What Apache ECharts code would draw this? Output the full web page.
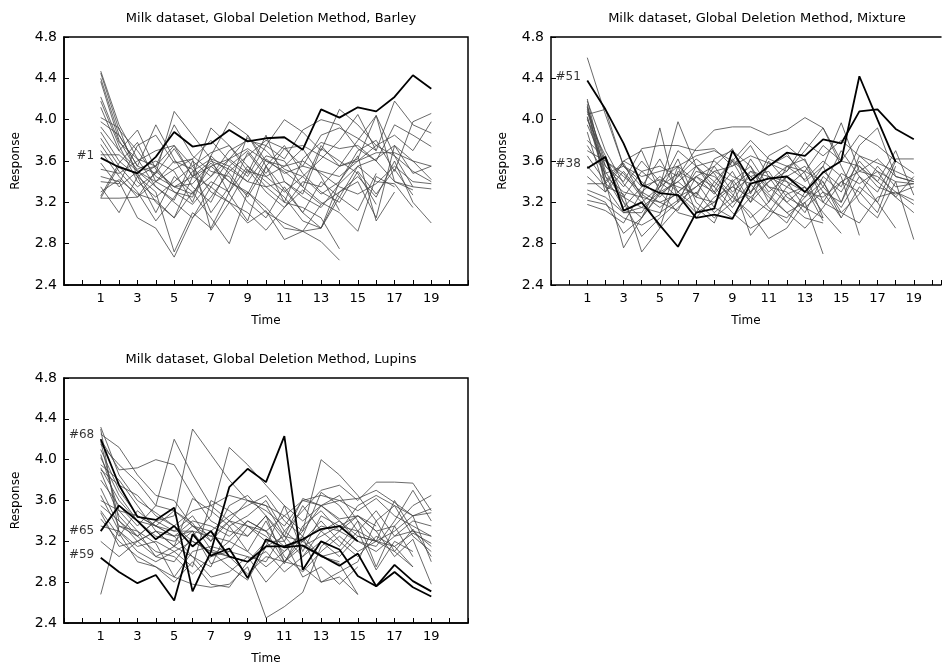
<!DOCTYPE html>
<html>
<head>
<meta charset="utf-8">
<script src="https://cdn.jsdelivr.net/npm/echarts@6/dist/echarts.min.js"></script>
<style>
html,body{margin:0;padding:0;background:#fff;}
#chart{width:944px;height:666px;}
</style>
</head>
<body>
<div id="chart"></div>
<script>
var timePoints = [1,2,3,4,5,6,7,8,9,10,11,12,13,14,15,16,17,18,19];
var xTickLabels = [1,3,5,7,9,11,13,15,17,19];
var yTicks = [2.4,2.8,3.2,3.6,4.0,4.4,4.8];

// Barley: highlighted cow #1
var barley1 = [3.63,3.54,3.48,3.64,3.88,3.74,3.77,3.90,3.79,3.82,3.83,3.71,4.10,4.02,4.12,4.08,4.22,4.43,4.30];
var barleyOther = [
	[4.47,3.95,3.62,3.55,3.75,3.45,3.60,3.52,3.40,3.35,3.20,3.15,3.05,2.75],
	[4.45,3.90,3.70,3.45,3.35,3.28,3.55,3.40,3.30,3.15,2.95,2.92,2.82,2.64],
	[4.40,3.85,3.55,3.48,4.08,3.85,3.62,3.55,3.70,3.48,3.72,3.55,3.50,3.45,3.60,3.75,3.65,3.50,3.40],
	[4.37,3.80,3.50,3.40,3.30,3.25,3.65,3.98,3.85,3.60,3.55,3.72,3.45,3.12],
	[4.22,3.78,3.62,3.35,3.22,3.60,3.45,3.70,3.80,3.75,3.62,3.90,4.00,3.95,3.72,3.60,3.95,3.85,3.74],
	[4.18,3.75,3.40,3.25,3.40,3.55,3.30,3.20,3.52,3.30,3.15,3.40,3.35,3.55,3.80,4.04,3.40,3.35,3.33],
	[4.12,3.70,3.52,3.60,3.50,3.20,3.65,3.48,3.25,3.55,3.75,3.48,3.30,3.20,3.50,3.28,3.52,3.27],
	[4.02,3.92,3.45,3.30,2.72,3.10,2.95,3.30,3.55,3.35,3.40,3.28,3.72,3.60,3.48,3.18],
	[3.98,3.85,3.55,3.95,3.62,3.35,3.20,3.55,3.40,3.65,3.60,3.35,3.20,3.10,2.92,3.45,3.35],
	[3.93,3.70,3.90,3.52,3.35,3.45,3.92,3.75,3.50,3.45,3.30,3.45,3.62,3.80,4.05,3.70,4.18,3.95,3.87],
	[3.88,3.60,3.45,3.10,3.45,3.30,3.05,2.80,3.30,3.10,3.00,2.92,2.95,3.30,3.40,3.05,3.75,3.60,3.42],
	[3.82,3.55,3.35,3.48,3.72,3.45,3.35,3.62,3.48,3.85,3.40,3.25,3.15,3.38,3.55,3.62,3.75,3.48,3.55],
	[3.76,3.50,3.30,3.02,3.25,3.50,3.62,3.28,3.02,3.55,3.20,3.62,3.78,3.72,3.75,3.60,3.40,3.32],
	[3.70,3.45,3.25,3.40,3.60,3.52,3.10,3.35,3.85,3.55,3.32,3.10,3.40,3.25,3.12,3.48],
	[3.66,3.66,3.50,3.35,3.20,3.05,3.25,3.50,3.65,3.80,3.72,3.75,3.65,3.55,3.60,3.68,3.68,3.60,3.55],
	[3.58,3.35,3.50,3.55,3.95,3.65,3.50,3.45,3.20,3.05,3.35,3.10,2.95,3.25,3.55,3.40,3.38,3.15],
	[3.52,3.48,3.60,3.70,3.75,3.55,3.68,3.75,3.55,3.40,3.25,3.02,2.95,3.40,3.70,3.80,3.50,3.98,4.06],
	[3.45,3.40,3.05,2.95,2.67,3.05,3.35,3.20,3.00,3.12,2.84,2.92,3.18],
	[3.40,3.38,3.75,3.85,3.58,3.62,3.80,3.60,3.45,3.75,4.00,3.88,3.70,4.10,3.95,3.75,3.85,3.70,3.98],
	[3.35,3.10,3.45,3.55,3.30,3.18,3.40,3.30,3.68,3.45,3.55,3.60,3.48,3.35,3.28,3.38,3.55,3.40,3.38],
	[3.30,3.42,3.28,3.22,3.05,3.45,3.55,3.62,3.72,3.60,3.50,3.35,3.75,3.55,3.62,4.04,3.65,3.35],
	[3.26,3.58,3.78,3.40,3.52,3.62,2.93,3.20,3.10,2.93,3.15,3.32,3.18,3.30,3.45,3.25,3.60,3.20,3.00],
	[3.24,3.24,3.25,3.50,3.35,3.38,3.58,3.40,3.28,3.62,3.48,3.55,3.85,3.92,3.82,3.70],
	[3.24,3.55,3.48,3.20,3.05,3.30,3.45,3.62,3.82,3.70,3.52,3.45,3.28,3.40,3.65,3.02,3.30]
];

// Mixture: highlighted cows #51 and #38
var mixture51 = [4.38,4.10,3.77,3.37,3.29,3.27,3.05,3.08,3.04,3.38,3.43,3.45,3.30,3.49,3.60,4.42,4.00,3.59];
var mixture38 = [3.53,3.64,3.12,3.20,2.98,2.77,3.10,3.14,3.70,3.41,3.55,3.68,3.65,3.81,3.77,4.08,4.10,3.91,3.81];
var mixtureOther = [
	[4.60,4.05,3.55,3.40,3.25,3.45,3.72,3.90,3.93,3.93,3.85,3.90,4.02,3.92,3.60,3.85,3.75,3.60,3.48],
	[4.20,3.45,3.30,3.25,3.92,3.20,3.35,3.50,3.40,3.55,3.30,3.45,3.55,3.30,3.20,3.55,3.40,3.25,3.10],
	[4.15,3.38,3.25,3.50,3.35,3.98,3.55,3.40,3.25,3.62,3.35,3.20,3.05,3.00],
	[4.12,3.35,3.10,3.10,3.35,3.48,3.25,3.20,3.42,3.20,3.60,3.40,3.30,3.55,3.97,3.50,3.45,3.30,3.22],
	[4.10,3.60,3.45,3.30,3.20,3.12,3.45,3.55,3.30,3.45,3.50,3.25,3.15,3.05],
	[4.08,3.50,3.20,3.05,3.28,3.40,3.25,3.62,3.70,3.55,3.20,3.45,3.35,3.20,3.10,3.28,3.55,3.35,3.38],
	[4.05,4.10,3.55,3.45,3.50,3.55,3.40,3.30,3.60,3.45,3.28,3.10,3.20,2.70],
	[4.02,3.40,3.60,3.70,3.30,3.62,3.20,3.05,3.20,3.30,3.45,3.35,3.50,3.40,3.05],
	[4.00,3.65,3.25,3.15,3.10,3.22,3.50,3.45,3.28,3.05,3.20,3.55,3.42,3.60,3.45,2.88],
	[3.95,3.55,3.40,3.72,3.75,3.75,3.70,3.72,3.55,3.65,3.58,3.50,3.78,3.65,3.80,3.65,3.58,3.50,3.42],
	[3.88,3.30,3.50,3.28,3.15,3.30,3.15,3.00,3.40,2.88,3.10,3.35,3.25,3.50,3.35,3.75,3.92,3.45,3.40],
	[3.80,3.62,3.20,2.87,3.05,3.20,3.55,3.35,3.15,3.40,3.55,3.65,3.48,3.05],
	[3.75,3.48,3.55,3.35,3.42,3.35,3.28,3.55,3.72,3.28,3.65,3.75,3.60,3.35,3.70,3.45,3.30,3.62,3.62],
	[3.65,3.40,2.76,3.05,3.30,3.10,3.05,3.25,3.35,3.50,3.45,3.20,3.35,3.10,2.90],
	[3.55,3.35,3.28,2.72,2.95,3.15,3.30,3.10,3.25,3.10,2.85,2.95,3.20,3.35,3.15,3.45,3.20,2.95],
	[3.45,3.30,3.60,3.50,3.55,3.45,3.62,3.48,3.20,3.50,3.35,3.30,3.10,3.45,3.30,3.60,3.40,3.70,3.27],
	[3.38,3.38,3.58,3.25,2.95,3.50,3.40,3.15,3.05,3.25,3.40,3.50,3.70,3.92,3.55,3.20,3.05,3.40,2.84],
	[3.32,3.25,3.10,3.15,3.30,3.40,3.55,3.60,3.45,3.38,3.15,3.00,3.30,3.25,3.40,3.50,3.62,3.45,3.40],
	[3.28,3.20,2.90,3.05,3.40,3.25,3.35,3.50,3.55,3.75,3.45,3.40,3.15,3.30,3.05,3.35,3.20,3.60],
	[3.22,3.18,3.05,2.98,3.08,3.55,3.10,3.40,3.60,3.30,3.55,3.68,3.40,3.55,3.20,3.65,3.50,3.25,3.45],
	[3.18,3.12,3.00,3.30,3.45,3.30,3.45,3.35,3.62,3.45,3.25,3.10,2.95,3.15,3.40,3.30,3.10,3.55],
	[4.18,3.70,3.38,3.20,3.35,3.70,3.55,3.30,3.10,2.95,3.05,3.28,3.35,3.02],
	[4.13,3.55,3.35,3.60,3.40,3.55,3.65,3.70,3.60,3.80,3.62,3.55,3.50,3.75,3.60,3.55,3.35,3.28,3.35],
	[3.70,3.60,3.48,3.25,3.20,3.28,3.10,3.20,3.35,3.25,3.12,3.05,3.25,3.40,3.10,3.00,3.25,3.30,3.18],
	[4.03,3.45,3.15,3.35,3.62,3.30,3.45,3.28,3.50,3.20,3.40,3.55,3.62,3.20,3.48,3.38,3.50,3.40,3.38]
];

// Lupins: highlighted cows #68, #65, #59
var lupins68 = [4.20,3.75,3.44,3.41,3.53,2.71,3.10,3.73,3.91,3.78,4.23,2.92,3.20,3.12,2.86,2.76,2.97,2.81,2.71];
var lupins65 = [3.30,3.55,3.40,3.22,3.35,3.15,3.30,3.05,3.00,3.15,3.15,3.22,3.32,3.35,3.20];
var lupins59 = [3.04,2.90,2.79,2.87,2.62,3.27,3.06,3.13,2.84,3.22,3.14,3.16,3.06,2.96,3.08,2.76,2.90,2.75,2.66];
var lupinsOther = [
	[4.32,3.85,3.60,3.48,3.35,3.20,3.10,3.05,3.00,3.15,3.25,3.20,3.35,3.30,3.20,3.10,3.25,3.30,3.15],
	[4.25,4.12,3.85,3.65,3.60,3.35,3.25,3.40,3.60,3.55,3.45,3.30,3.55,3.60,3.62,3.70,3.58,3.45,3.52],
	[4.20,3.90,3.92,4.00,3.95,3.65,3.40,3.30,3.25,3.45,3.20,3.55,3.30,3.40,3.25,3.20,3.10,3.32,3.05],
	[4.15,3.95,3.78,3.55,3.50,3.38,3.12,3.05,2.88,3.05,3.00,3.15,3.05,3.00],
	[4.10,3.70,3.45,3.35,3.25,3.05,2.95,3.35,3.45,3.60,3.30,3.50,3.70,3.75,3.60,3.78,3.78,3.77,3.50],
	[4.05,3.50,3.30,3.18,2.85,2.78,2.75,2.78,2.95,2.45,2.56,2.70,3.15,3.30,3.45,3.35],
	[3.95,3.80,3.55,3.30,3.15,3.05,2.85,2.90,3.05,3.00,3.30,3.15,3.25,3.35,3.45,3.30,3.05,3.22,2.78],
	[3.92,3.60,3.40,3.25,3.20,3.35,3.20,3.55,3.65,3.45,3.25,3.62,3.55,3.40,3.20,3.15,3.40,3.70,3.40],
	[3.88,3.45,3.25,3.40,3.45,4.30,4.05,3.80,3.60,3.55,3.25,3.05,3.30,3.15,3.40,2.95,3.35,3.55,3.65],
	[3.80,3.55,3.35,3.55,4.20,3.85,3.55,3.40,3.25,3.45,3.00,3.25,3.05,2.98,2.68],
	[3.72,3.35,3.30,3.05,3.00,3.25,3.45,4.12,3.95,3.75,3.55,3.40,3.55,3.65,3.40,3.20,3.15,3.28,3.18],
	[3.65,3.30,3.15,3.20,3.10,2.95,3.60,3.50,3.35,3.25,3.10,3.30,4.00,3.85,3.65,3.40,3.55,3.25,3.10],
	[3.55,3.40,3.25,3.10,3.05,2.88,3.05,3.10,3.05,2.80,3.00,2.95,2.80,2.85,2.68],
	[3.50,3.25,3.50,3.35,3.30,3.30,3.25,3.20,3.40,3.30,3.45,3.60,3.65,3.60,3.50,3.62,3.45,3.35,3.25],
	[3.42,3.20,3.05,2.95,2.80,3.00,2.78,2.75,3.00,3.10,2.90,3.05,3.20,3.05,3.25,3.20,3.30,3.45,3.48],
	[3.35,3.30,3.10,3.00,3.10,3.20,3.10,2.95,2.82,3.15,3.55,3.10,3.45,3.35,3.30,2.92,3.20,3.10],
	[3.20,3.05,3.20,3.30,3.25,3.30,3.05,3.20,3.10,2.95,3.10,3.25,2.80,2.90,3.00,3.40,3.10,2.95],
	[2.68,3.35,3.25,3.40,3.30,3.45,3.20,3.40,3.35,3.30,3.00,3.20,3.05,3.10,3.30,3.50,3.25,3.40,3.35],
	[4.30,3.28,3.00,2.95,2.85,3.10,3.15,3.10,3.35,3.20,2.98,3.35,3.50,3.30,3.55,3.65,3.55,3.45,3.00],
	[3.90,3.75,3.65,3.45,3.35,3.50,3.55,3.65,3.60,3.50,3.35,3.60,3.55,3.42,3.45,3.30,3.35,3.05],
	[4.18,3.40,3.20,3.30,3.15,3.62,3.50,3.35,3.10,3.40,3.05,2.90,3.10,3.25,3.10,3.20],
	[3.60,3.50,3.45,3.35,3.50,3.35,3.30,3.45,3.55,3.65,3.40,3.25,3.68,3.55,3.30,3.20,3.60,3.30,3.25],
	[4.02,3.65,3.40,3.35,3.25,3.40,3.35,3.25,3.40,3.30,3.15,3.20,3.40,3.20,3.05,3.25,3.15,2.95],
	[3.48,3.15,3.20,3.05,3.15,3.30,2.98,3.05,3.00,3.20,3.20,2.85,2.95,2.78,2.95]
];

var panelTitles = ['Milk dataset, Global Deletion Method, Barley','Milk dataset, Global Deletion Method, Mixture','Milk dataset, Global Deletion Method, Lupins'];

var FONT = 'DejaVu Sans';
// panel 2 is cut off at the right edge of the page, like the reference: no right border, shorter range
var grids = [
	{left: 64, top: 37, width: 404, height: 248, show: true},
	{left: 551, top: 37, width: 393, height: 248, show: false},
	{left: 64, top: 378, width: 404, height: 246, show: true}
];
var xMax = [21, 20.5, 21];
var gridCenters = [266, 752, 266];

function toPoints(vals){
	var pts = [];
	for (var i = 0; i < vals.length; i++) pts.push([timePoints[i], vals[i]]);
	return pts;
}

var series = [];
function addThin(idx, rows){
	for (var i = 0; i < rows.length; i++){
		series.push({
			type: 'line', xAxisIndex: idx, yAxisIndex: idx, data: toPoints(rows[i]),
			symbol: 'none', silent: true, z: 2,
			lineStyle: {color: '#444', width: 0.8}
		});
	}
}
function addBold(idx, vals, tag, off){
	series.push({
		type: 'line', xAxisIndex: idx, yAxisIndex: idx, data: toPoints(vals),
		symbol: 'none', silent: true, z: 3,
		lineStyle: {color: '#000', width: 1.8}
	});
	series.push({
		type: 'scatter', xAxisIndex: idx, yAxisIndex: idx, z: 4, silent: true,
		symbolSize: 1, itemStyle: {color: 'transparent'},
		data: [[timePoints[0], vals[0]]],
		label: {show: true, position: 'left', distance: 6, offset: off || [0, -2], formatter: tag,
			color: '#000', fontFamily: FONT, fontSize: 12}
	});
}
addThin(0, barleyOther);
addBold(0, barley1, '#1');
addThin(1, mixtureOther);
addBold(1, mixture51, '#51', [0, -4]);
addBold(1, mixture38, '#38', [0, -4]);
addThin(2, lupinsOther);
addBold(2, lupins68, '#68', [0, -4]);
addBold(2, lupins65, '#65', [0, 0]);
addBold(2, lupins59, '#59', [0, -3]);

var xAxes = [], yAxes = [], titles = [];
for (var g = 0; g < 3; g++){
	grids[g].borderColor = '#000';
	grids[g].borderWidth = 1.5;
	titles.push({
		text: panelTitles[g], left: gridCenters[g], top: grids[g].top - 30,
		textAlign: 'center',
		textStyle: {fontFamily: FONT, fontSize: 13, fontWeight: 'normal', color: '#000'}
	});
	xAxes.push({
		type: 'value', gridIndex: g, min: -1, max: xMax[g], interval: 1,
		name: 'Time', nameLocation: 'middle', nameGap: 30,
		nameTextStyle: {fontFamily: FONT, fontSize: 12, color: '#000'},
		axisLine: {onZero: false, lineStyle: {color: '#000', width: 1.5}},
		axisTick: {inside: true, length: 5, lineStyle: {color: '#000'}},
		splitLine: {show: false},
		axisLabel: {fontFamily: FONT, fontSize: 13, color: '#000', margin: 7, showMinLabel: true, showMaxLabel: true,
			formatter: function(v){ return xTickLabels.indexOf(v) >= 0 ? String(v) : ''; }}
	});
	yAxes.push({
		type: 'value', gridIndex: g, min: yTicks[0], max: yTicks[yTicks.length - 1], interval: 0.4,
		name: 'Response', nameLocation: 'middle', nameGap: 42,
		nameTextStyle: {fontFamily: FONT, fontSize: 12, color: '#000'},
		axisLine: {show: true, onZero: false, lineStyle: {color: '#000', width: 1.5}},
		axisTick: {inside: true, length: 5, lineStyle: {color: '#000'}},
		splitLine: {show: false},
		axisLabel: {fontFamily: FONT, fontSize: 14, color: '#000', margin: 7,
			formatter: function(v){ return v.toFixed(1); }}
	});
}
// top edge of panel 2's frame
xAxes.push({
	type: 'value', gridIndex: 1, position: 'top', min: -1, max: xMax[1],
	axisLine: {onZero: false, lineStyle: {color: '#000', width: 1.5}},
	axisTick: {show: false}, axisLabel: {show: false}, splitLine: {show: false}
});

var chart = echarts.init(document.getElementById('chart'));
chart.setOption({
	backgroundColor: '#fff',
	animation: false,
	title: titles,
	grid: grids,
	xAxis: xAxes,
	yAxis: yAxes,
	series: series
});
</script>
</body>
</html>
